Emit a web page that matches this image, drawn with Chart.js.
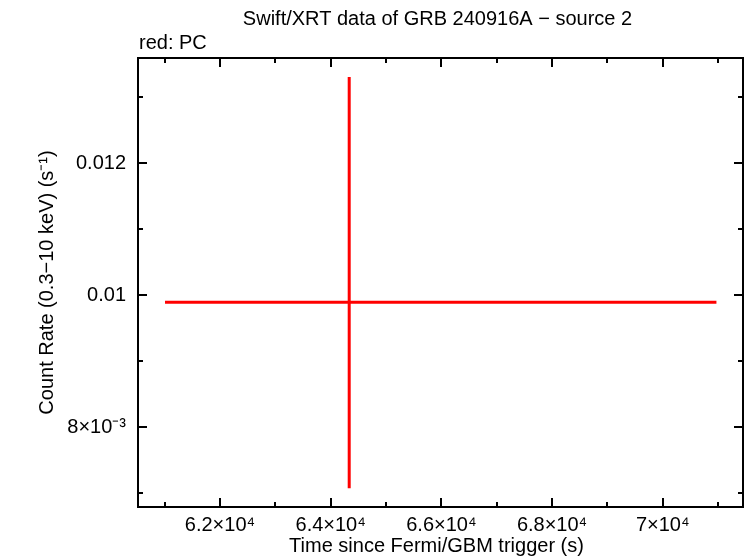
<!DOCTYPE html>
<html>
<head>
<meta charset="utf-8">
<script src="https://cdn.jsdelivr.net/npm/chart.js@4.4.1/dist/chart.umd.min.js"></script>
<style>
html,body{margin:0;padding:0;background:#fff;}
#c{display:block;}
</style>
</head>
<body>
<canvas id="c" width="746" height="558"></canvas>
<script>
// ---- data ----
const xCenter = [64335];
const xErrLow = [61007];
const xErrHigh = [70970];
const yRate = [0.009892];
const yErrLow = [0.007072];
const yErrHigh = [0.013304];

// axis ranges, tick positions and tick labels
const xRange = [60519, 71450];
const yRange = [0.006788, 0.013592];
const xTickValues = [61000, 62000, 63000, 64000, 65000, 66000, 67000, 68000, 69000, 70000, 71000];
const yTickValues = [0.007, 0.008, 0.009, 0.010, 0.011, 0.012, 0.013];
const xTickLabels = {62: '6.2×10⁴', 64: '6.4×10⁴', 66: '6.6×10⁴', 68: '6.8×10⁴', 70: '7×10⁴'};
const yTickLabels = {8: '8×10⁻³', 10: '0.01', 12: '0.012'};

const titleText = 'Swift/XRT data of GRB 240916A − source 2';
const subtitleText = 'red: PC';
const xTitle = 'Time since Fermi/GBM trigger (s)';
const yTitle = 'Count Rate (0.3−10 keV) (s⁻¹)';

const FONT = '"Liberation Sans", Arial, Helvetica, sans-serif';
const RED = '#ff0000';

// build error bar segments from data
const datasets = [];
for (let i = 0; i < xCenter.length; i++) {
  datasets.push({
    data: [{x: xErrLow[i], y: yRate[i]}, {x: xErrHigh[i], y: yRate[i]}],
    borderColor: RED, borderWidth: 3, pointRadius: 0, showLine: true, fill: false
  });
  datasets.push({
    data: [{x: xCenter[i], y: yErrLow[i]}, {x: xCenter[i], y: yErrHigh[i]}],
    borderColor: RED, borderWidth: 3, pointRadius: 0, showLine: true, fill: false
  });
}

const framePlugin = {
  id: 'frame',
  afterDraw(chart) {
    const ctx = chart.ctx;
    const a = chart.chartArea;
    const xs = chart.scales.x, ys = chart.scales.y;
    ctx.save();
    ctx.strokeStyle = '#000';
    ctx.lineWidth = 2;
    ctx.strokeRect(a.left, a.top, a.right - a.left, a.bottom - a.top);
    ctx.beginPath();
    xs.ticks.forEach(t => {
      const k = Math.round(t.value / 1000);
      const len = (k % 2 === 0) ? 9 : 5;
      const px = Math.round(xs.getPixelForValue(t.value));
      ctx.moveTo(px, a.bottom); ctx.lineTo(px, a.bottom - len);
      ctx.moveTo(px, a.top); ctx.lineTo(px, a.top + len);
    });
    ys.ticks.forEach(t => {
      const k = Math.round(t.value * 1000);
      const len = (k % 2 === 0) ? 9 : 5;
      const py = Math.round(ys.getPixelForValue(t.value));
      ctx.moveTo(a.left, py); ctx.lineTo(a.left + len, py);
      ctx.moveTo(a.right, py); ctx.lineTo(a.right - len, py);
    });
    ctx.stroke();

    // texts
    ctx.fillStyle = '#000';
    ctx.font = '20px ' + FONT;
    ctx.textBaseline = 'middle';
    ctx.textAlign = 'center';
    ctx.fillText(titleText, (a.left + a.right) / 2 - 3, 19);
    ctx.textAlign = 'left';
    ctx.fillText(subtitleText, a.left + 1, 43);
    ctx.textAlign = 'center';
    ctx.fillText(xTitle, (a.left + a.right) / 2 - 4, 546);
    ctx.save();
    ctx.translate(47, (a.top + a.bottom) / 2);
    ctx.rotate(-Math.PI / 2);
    ctx.fillText(yTitle, 0, 0);
    ctx.restore();
    ctx.restore();
  }
};

new Chart(document.getElementById('c'), {
  type: 'scatter',
  data: {datasets},
  options: {
    responsive: false,
    animation: false,
    events: [],
    layout: {padding: {top: 58, right: 3, left: 0, bottom: 0}},
    plugins: {legend: {display: false}, tooltip: {enabled: false}, title: {display: false}},
    scales: {
      x: {
        type: 'linear',
        min: xRange[0], max: xRange[1],
        grid: {display: false, drawTicks: false},
        border: {display: false},
        afterFit(s) { s.height = 51; s.paddingLeft = 0; s.paddingRight = 0; },
        afterBuildTicks(s) { s.ticks = xTickValues.map(v => ({value: v})); },
        ticks: {
          autoSkip: false,
          maxRotation: 0,
          padding: 6,
          color: '#000',
          font: {family: FONT, size: 20},
          callback(v) { const k = Math.round(v / 1000); return xTickLabels[k] || ''; }
        }
      },
      y: {
        type: 'linear',
        min: yRange[0], max: yRange[1],
        grid: {display: false, drawTicks: false},
        border: {display: false},
        afterFit(s) { s.width = 138; s.paddingTop = 0; s.paddingBottom = 0; },
        afterBuildTicks(s) { s.ticks = yTickValues.map(v => ({value: v})); },
        ticks: {
          autoSkip: false,
          padding: 12,
          color: '#000',
          font: {family: FONT, size: 20},
          callback(v) { const k = Math.round(v * 1000); return yTickLabels[k] || ''; }
        }
      }
    }
  },
  plugins: [framePlugin]
});
</script>
</body>
</html>
